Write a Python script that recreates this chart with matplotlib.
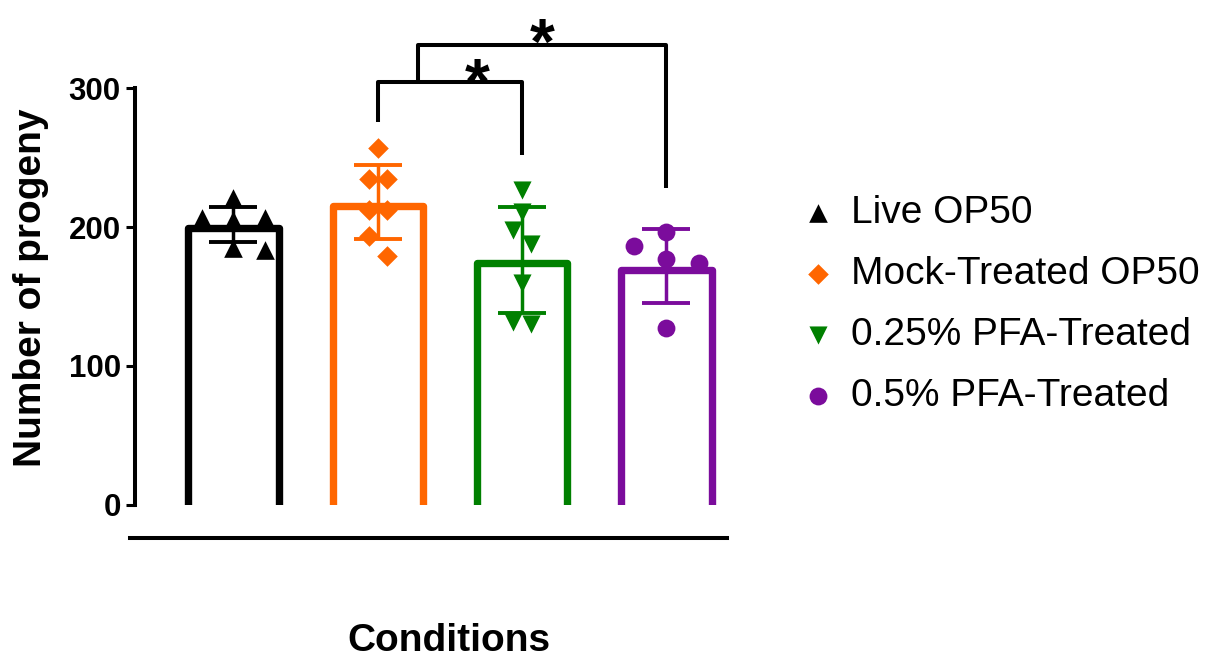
import numpy as np
import matplotlib
matplotlib.use('Agg')
import matplotlib.pyplot as plt
from matplotlib.transforms import ScaledTranslation

plt.rcParams['font.family'] = ['Liberation Sans', 'DejaVu Sans']

# data
groups = ['Live OP50', 'Mock-Treated OP50', '0.25% PFA-Treated', '0.5% PFA-Treated']
colors = ['#000000', '#FF6600', '#008000', '#7B0C9C']
markers = ['^', 'D', 'v', 'o']
msizes = [180, 110, 170, 165]

means = [202, 218, 176.5, 172]
sds = [12.6, 26.7, 38.1, 26.5]

pts_live = [220.6, 206.3, 205.0, 206.3, 184.7, 183.5]
pts_mock = [257.3, 235.0, 235.0, 212.2, 212.2, 193.5, 179.1]
pts_pfa25 = [226.6, 211.0, 197.8, 188.0, 159.5, 131.9, 130.2]
pts_pfa5 = [196.6, 186.3, 176.8, 173.9, 127.1]
points = [pts_live, pts_mock, pts_pfa25, pts_pfa5]

# horizontal scatter of the points (as in the prism layout)
jit_live = [0, -0.22, 0, 0.22, 0, 0.22]
jit_mock = [0, -0.064, 0.064, -0.064, 0.064, -0.064, 0.064]
jit_pfa25 = [0, 0, -0.064, 0.064, 0, -0.064, 0.064]
jit_pfa5 = [0, -0.225, 0, 0.225, 0]
jitter = [jit_live, jit_mock, jit_pfa25, jit_pfa5]

# significance brackets: x_left, x_right, top, left leg end, right leg end
brackets = [(1.0, 2.0, 304.5, 275.7, 251.8),
            (1.28, 3.0, 331.0, 304.5, 228.0)]
stars = [(1.69, 289.0), (2.14, 318.0)]

bar_w = 0.625
bar_lw = 5.3

fig = plt.figure(figsize=(12.21, 6.6), dpi=100)
ax = fig.add_axes([130/1221, 155.5/660, 623/1221, 504.5/660])

# prism draws the bar border inside the bar
inset = ax.transData + ScaledTranslation(0, -bar_lw/2/72, fig.dpi_scale_trans)

x = np.arange(len(groups))
for i in range(len(groups)):
    c = colors[i]
    xl, xr = x[i] - bar_w/2, x[i] + bar_w/2
    ax.plot([xl, xl, xr, xr], [0, means[i], means[i], 0], color=c, lw=bar_lw,
            solid_capstyle='butt', solid_joinstyle='round', zorder=2, transform=inset)
    ax.errorbar(x[i], means[i], yerr=sds[i], color=c, elinewidth=2.5,
                capsize=17, capthick=2.8, zorder=3)
    ax.scatter(x[i] + np.array(jitter[i]), points[i], marker=markers[i], s=msizes[i],
               color=c, linewidths=0, zorder=4, label=groups[i])

for xa, xb, top, la, lb in brackets:
    ax.plot([xa, xa, xb, xb], [la, top, top, lb], color='black', lw=2.9,
            solid_joinstyle='round', solid_capstyle='butt', clip_on=False)
for sx, sy in stars:
    ax.text(sx, sy, '*', ha='center', va='baseline', fontsize=46, fontweight='bold')

ax.set_xlim(-0.717, 3.6)
ax.set_ylim(0, 363.7)

for s in ['top', 'right']:
    ax.spines[s].set_visible(False)
ax.spines['left'].set_position(('data', -0.68))
ax.spines['left'].set_bounds(0, 300)
ax.spines['left'].set_linewidth(2.9)
ax.spines['bottom'].set_position(('outward', 24))
ax.spines['bottom'].set_bounds(-0.717, 3.42)
ax.spines['bottom'].set_linewidth(2.9)

ax.set_xticks([])
ax.set_yticks([0, 100, 200, 300])
ax.tick_params(axis='y', direction='out', length=6.5, width=2.2, pad=4, labelsize=22.5)
for lab in ax.get_yticklabels():
    lab.set_fontweight('bold')

ax.set_ylabel('Number of progeny', fontsize=28, fontweight='bold')
ax.yaxis.set_label_coords(-0.13, 0.43)
ax.set_xlabel('Conditions', fontsize=28, fontweight='bold')
ax.xaxis.set_label_coords(0.512, -0.234)

ax.legend(loc='upper left', bbox_to_anchor=(0.660, 0.704), bbox_transform=fig.transFigure,
          frameon=False, fontsize=28, handlelength=0.6, handletextpad=0.57,
          labelspacing=0.64, borderpad=0, borderaxespad=0, scatterpoints=1)

fig.savefig('out.png', dpi=100)
